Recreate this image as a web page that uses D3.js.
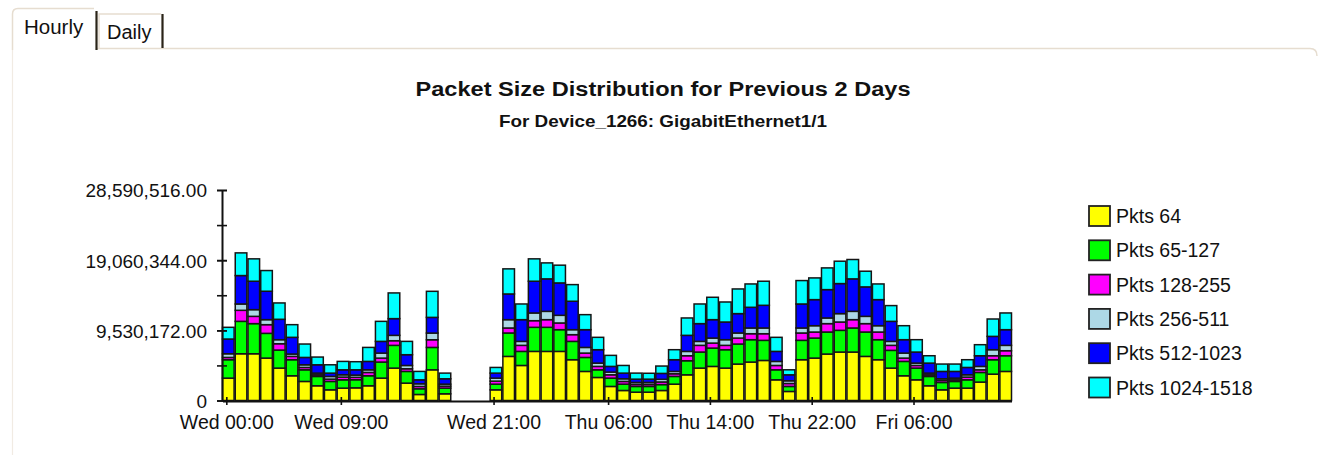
<!DOCTYPE html>
<html>
<head>
<meta charset="utf-8">
<script src="https://cdnjs.cloudflare.com/ajax/libs/d3/7.8.5/d3.min.js"></script>
<style>
    body { margin: 0; background: #fff; }
    svg { display: block; }
    text { font-family: "Liberation Sans", Arial, sans-serif; fill: #111; }
</style>
</head>
<body>
<div id="chart"></div>
<script>

//  values in millions of packets, one entry per hour starting Wed 00:00 (null = no data)
var pkts64 = [3.04, 6.35, 6.35, 5.76, 4.40, 3.36, 2.59, 2.00, 1.45, 1.68, 1.72, 2.00, 3.04, 4.40, 2.36, 0.82,
    4.17, 0.91, null, null, null, 1.45, 5.99, 4.76, 6.67, 6.67, 6.67, 5.54, 3.95, 3.13, 1.91, 1.36,
    1.13, 1.13, 1.36, 2.22, 3.49, 4.40, 4.63, 4.40, 4.95, 5.22, 5.44, 2.81, 1.23, 5.54, 5.76, 6.31,
    6.58, 6.58, 5.99, 5.54, 4.40, 3.36, 2.81, 2.00, 1.45, 1.68, 1.68, 2.50, 3.58, 3.95];
var pkts65_127 = [2.50, 4.40, 4.09, 3.36, 2.45, 2.18, 1.58, 1.27, 1.14, 1.13, 1.10, 1.36, 2.18, 3.09, 1.59, 0.77,
    3.04, 0.77, null, null, null, 0.77, 3.18, 1.91, 3.27, 3.27, 2.95, 2.49, 1.90, 1.04, 1.13, 0.86,
    0.78, 0.78, 0.80, 1.05, 1.91, 2.18, 2.49, 2.50, 2.72, 3.04, 2.73, 1.36, 0.68, 2.63, 2.72, 2.99,
    2.95, 3.27, 3.31, 2.72, 2.41, 1.95, 1.59, 1.27, 1.00, 0.91, 1.13, 1.31, 1.96, 2.13];
var pkts128_255 = [0.31, 1.50, 0.99, 1.18, 0.86, 0.45, 0.32, 0.22, 0.31, 0.37, 0.33, 0.45, 0.54, 0.63, 0.36, 0.32,
    1.04, 0.27, null, null, null, 0.41, 0.68, 0.82, 0.90, 1.04, 0.91, 0.91, 0.59, 0.46, 0.45, 0.37,
    0.27, 0.27, 0.36, 0.36, 0.68, 0.91, 0.68, 0.59, 0.81, 0.81, 0.90, 0.59, 0.40, 1.00, 0.82, 1.14,
    1.13, 1.13, 1.14, 1.04, 0.68, 0.45, 0.36, 0.22, 0.27, 0.22, 0.37, 0.36, 0.54, 0.68];
var pkts256_511 = [0.50, 0.86, 0.91, 0.68, 0.55, 0.32, 0.36, 0.23, 0.37, 0.31, 0.30, 0.36, 0.68, 0.73, 0.45, 0.36,
    0.91, 0.27, null, null, null, 0.41, 1.13, 0.54, 1.05, 1.13, 1.04, 0.68, 0.77, 0.45, 0.37, 0.36,
    0.27, 0.27, 0.36, 0.32, 0.59, 0.54, 0.68, 0.77, 0.69, 0.78, 0.78, 0.55, 0.37, 0.68, 0.86, 0.77,
    1.14, 1.13, 0.99, 0.86, 0.54, 0.68, 0.32, 0.23, 0.23, 0.23, 0.31, 0.46, 0.82, 0.73];
var pkts512_1023 = [2.00, 3.86, 3.86, 3.86, 2.77, 2.27, 1.00, 1.13, 0.45, 0.68, 0.72, 1.14, 1.59, 2.27, 1.46, 0.54,
    2.13, 0.73, null, null, null, 0.68, 3.49, 2.95, 4.31, 4.41, 4.40, 3.86, 2.41, 1.82, 0.77, 0.77,
    0.45, 0.45, 0.80, 1.59, 2.18, 2.41, 2.50, 2.40, 2.63, 2.81, 3.08, 1.36, 0.81, 3.26, 3.54, 3.85,
    4.08, 4.41, 4.00, 3.54, 2.72, 1.82, 1.50, 1.36, 1.00, 0.91, 1.00, 1.45, 1.81, 2.13];
var pkts1024_1518 = [1.59, 3.08, 3.04, 2.81, 2.22, 1.72, 1.82, 1.05, 1.13, 1.14, 1.10, 1.90, 2.72, 3.49, 1.81, 1.14,
    3.54, 0.77, null, null, null, 0.77, 3.41, 2.13, 3.04, 2.17, 2.41, 2.26, 2.04, 1.68, 1.50, 1.04,
    0.82, 0.80, 1.00, 1.36, 2.36, 2.67, 3.04, 2.72, 3.35, 3.17, 3.27, 1.91, 0.68, 3.18, 2.95, 2.95,
    3.04, 2.63, 2.13, 2.13, 2.14, 1.90, 1.68, 1.00, 1.00, 1.00, 1.05, 1.50, 2.36, 2.27];

var seriesNames = ['Pkts 64', 'Pkts 65-127', 'Pkts 128-255', 'Pkts 256-511', 'Pkts 512-1023', 'Pkts 1024-1518'];
var seriesColors = ['#ffff00', '#00ff00', '#ff00ff', '#add8e6', '#0000ff', '#00ffff'];

var yTickValues = [0, 9530172, 19060344, 28590516];
var xTickHours = [0, 9, 21, 30, 38, 46, 54];
var xTickLabels = ['Wed 00:00', 'Wed 09:00', 'Wed 21:00', 'Thu 06:00', 'Thu 14:00', 'Thu 22:00', 'Fri 06:00'];

var tabs = ['Hourly', 'Daily'];
var title = 'Packet Size Distribution for Previous 2 Days';
var subtitle = 'For Device_1266: GigabitEthernet1/1';

var W = 1319, H = 455;

var svg = d3.select('#chart').append('svg')
    .attr('width', W)
    .attr('height', H);

drawTabs(svg);

//  build the table the stack needs
var series = [pkts64, pkts65_127, pkts128_255, pkts256_511, pkts512_1023, pkts1024_1518];
var rows = pkts64.map(function(d, i) {
    var row = { hour: i };
    seriesNames.forEach(function(name, k) {
        row[name] = series[k][i] == null ? 0 : series[k][i] * 1e6;
    });
    return row;
});

var stacked = d3.stack().keys(seriesNames)(rows);

var x = d3.scaleBand()
    .domain(d3.range(rows.length))
    .range([222.5, 1011.5])
    .paddingInner(0.09)
    .paddingOuter(0);

//  linear hour scale used for the bottom axis ticks
var xh = d3.scaleLinear()
    .domain([0, rows.length])
    .range([222.5, 1011.5]);

var y = d3.scaleLinear()
    .domain([0, 28590516])
    .range([400.5, 190]);

// bars
var layer = svg.append('g').attr('class', 'bars')
    .selectAll('g')
    .data(stacked)
    .enter().append('g')
    .attr('fill', function(d, i) { return seriesColors[i]; });

layer.selectAll('rect')
    .data(function(d) { return d.filter(function(p) { return p[1] - p[0] > 0; }); })
    .enter().append('rect')
    .attr('x', function(d) { return x(d.data.hour); })
    .attr('width', x.bandwidth())
    .attr('y', function(d) { return y(d[1]); })
    .attr('height', function(d) { return y(d[0]) - y(d[1]); })
    .attr('stroke', '#151515')
    .attr('stroke-width', 1.5);

// y axis, minor ticks first
svg.append('g')
    .attr('transform', 'translate(222,0)')
    .call(d3.axisLeft(y)
        .tickValues(d3.range(0, 28590517, 4765086))
        .tickSize(5)
        .tickFormat(''))
    .call(function(g) {
        g.select('.domain').remove();
        g.selectAll('.tick line').attr('x2', 5).attr('x1', -5).attr('stroke', '#111').attr('stroke-width', 1.6);
    });

var yAxis = svg.append('g')
    .attr('transform', 'translate(222,0)')
    .call(d3.axisLeft(y)
        .tickValues(yTickValues)
        .tickSize(5)
        .tickSizeOuter(0)
        .tickFormat(function(d) { return d === 0 ? '0' : d3.format(',.2f')(d); }));

yAxis.select('.domain').attr('stroke', '#111').attr('stroke-width', 2);
yAxis.selectAll('.tick line').attr('x1', 5).attr('stroke', '#111').attr('stroke-width', 1.6);
yAxis.selectAll('.tick text')
    .attr('x', -15)
    .attr('dy', '0.36em')
    .style('font-size', '19px')
    .style('font-family', '"Liberation Sans", Arial, sans-serif')
    .attr('fill', '#111');

// x axis
var xAxis = svg.append('g')
    .attr('transform', 'translate(0,401)')
    .call(d3.axisBottom(xh)
        .tickValues(xTickHours.map(function(h) { return h + 0.3; }))
        .tickSize(4)
        .tickSizeOuter(0)
        .tickFormat(function(d, i) { return xTickLabels[i]; }));

xAxis.select('.domain').attr('stroke', '#111').attr('stroke-width', 2);
xAxis.selectAll('.tick line').attr('y1', -4).attr('stroke', '#111').attr('stroke-width', 1.6);
xAxis.selectAll('.tick text')
    .attr('y', 14)
    .attr('dy', '0.71em')
    .style('font-size', '19.5px')
    .style('font-family', '"Liberation Sans", Arial, sans-serif')
    .attr('fill', '#111');

// titles
svg.append('text')
    .attr('x', 663)
    .attr('y', 96)
    .attr('text-anchor', 'middle')
    .attr('font-weight', 'bold')
    .attr('font-size', 20)
    .attr('textLength', 495)
    .attr('lengthAdjust', 'spacingAndGlyphs')
    .text(title);

svg.append('text')
    .attr('x', 663)
    .attr('y', 127)
    .attr('text-anchor', 'middle')
    .attr('font-weight', 'bold')
    .attr('font-size', 17)
    .attr('textLength', 328)
    .attr('lengthAdjust', 'spacingAndGlyphs')
    .text(subtitle);

// legend
var legend = svg.append('g').attr('class', 'legend')
    .selectAll('g')
    .data(seriesNames)
    .enter().append('g')
    .attr('transform', function(d, i) { return 'translate(1089,' + (206 + i * 34.3) + ')'; });

legend.append('rect')
    .attr('width', 21)
    .attr('height', 20)
    .attr('fill', function(d, i) { return seriesColors[i]; })
    .attr('stroke', '#222')
    .attr('stroke-width', 1.8);

legend.append('text')
    .attr('x', 27)
    .attr('y', 10)
    .attr('dy', '0.36em')
    .attr('font-size', 19.5)
    .text(function(d) { return d; });


function drawTabs(svg) {

    var line = '#e6ddd0';

    //  panel border
    svg.append('path')
        .attr('d', 'M97,48.5 H1310 Q1317,48.5 1317,56')
        .attr('fill', 'none')
        .attr('stroke', line)
        .attr('stroke-width', 1.5);

    svg.append('line')
        .attr('x1', 12.5).attr('x2', 12.5)
        .attr('y1', 50).attr('y2', 455)
        .attr('stroke', '#f1ebe3')
        .attr('stroke-width', 1.2);

    //  active tab
    svg.append('path')
        .attr('d', 'M12.5,50 V14 Q12.5,8.5 18,8.5 H94')
        .attr('fill', '#fff')
        .attr('stroke', line)
        .attr('stroke-width', 1.5);
    svg.append('line')
        .attr('x1', 96.5).attr('x2', 96.5)
        .attr('y1', 11).attr('y2', 50)
        .attr('stroke', '#2a2418')
        .attr('stroke-width', 2.2);

    //  inactive tab
    svg.append('path')
        .attr('d', 'M99,48 V14 H161')
        .attr('fill', 'none')
        .attr('stroke', line)
        .attr('stroke-width', 1.5);
    svg.append('line')
        .attr('x1', 162.5).attr('x2', 162.5)
        .attr('y1', 14).attr('y2', 48)
        .attr('stroke', '#2a2418')
        .attr('stroke-width', 2.2);

    svg.append('text')
        .attr('x', 24)
        .attr('y', 34)
        .attr('font-size', 20.5)
        .text(tabs[0]);

    svg.append('text')
        .attr('x', 107)
        .attr('y', 39)
        .attr('font-size', 20)
        .text(tabs[1]);
}

</script>
</body>
</html>
